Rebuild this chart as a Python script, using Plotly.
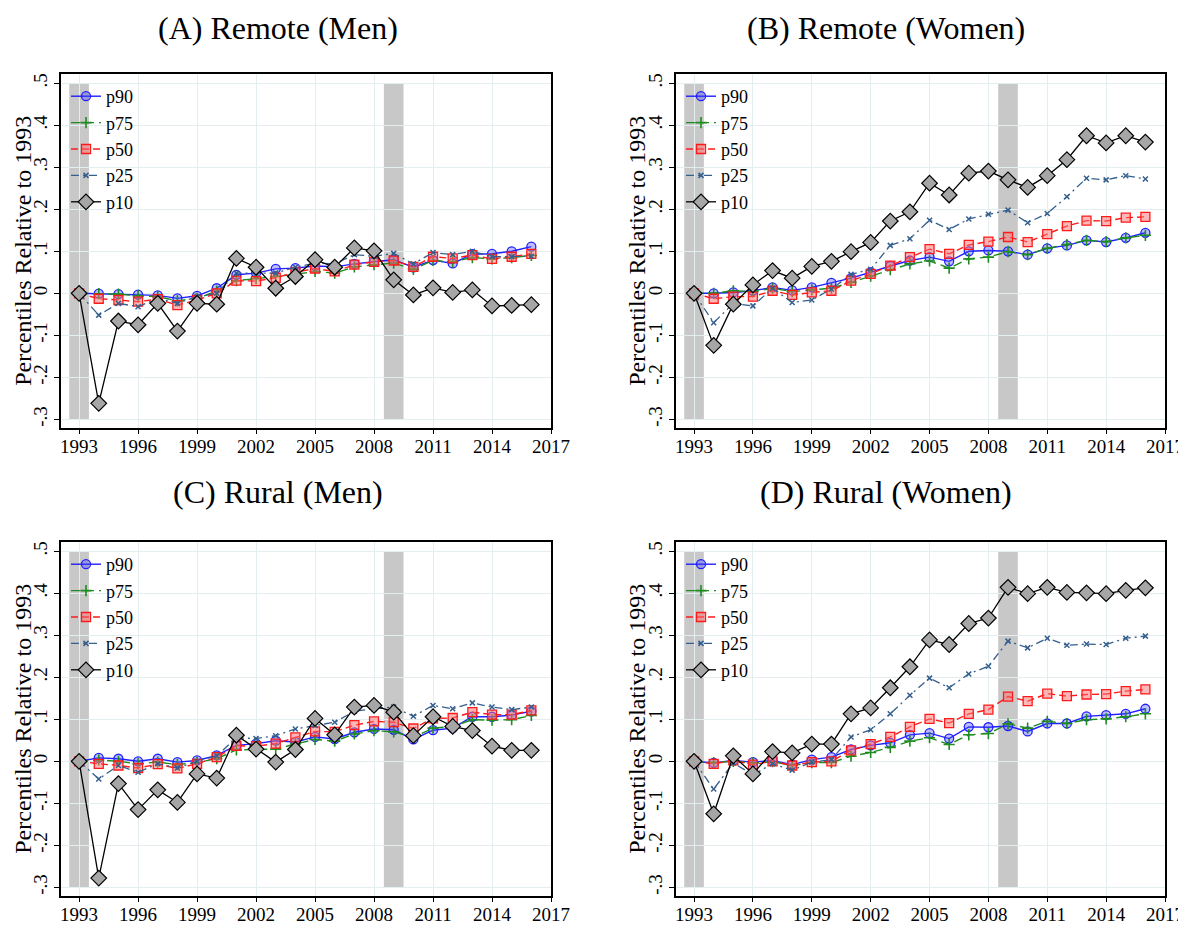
import plotly.graph_objects as go
from plotly.subplots import make_subplots

years = list(range(1993, 2017))

# (A) Remote (Men)
remote_men_p90 = [0, -0.001, -0.002, -0.003, -0.005, -0.012, -0.006, 0.012, 0.044, 0.048, 0.058, 0.060,
                  0.065, 0.063, 0.070, 0.075, 0.080, 0.062, 0.079, 0.071, 0.093, 0.094, 0.100, 0.111]
remote_men_p75 = [0, -0.001, -0.002, -0.006, -0.008, -0.018, -0.012, 0.005, 0.030, 0.035, 0.040, 0.045,
                  0.052, 0.048, 0.063, 0.068, 0.072, 0.057, 0.078, 0.075, 0.085, 0.082, 0.085, 0.090]
remote_men_p50 = [0, -0.013, -0.016, -0.020, -0.014, -0.028, -0.016, 0.000, 0.030, 0.029, 0.037, 0.050,
                  0.059, 0.052, 0.068, 0.075, 0.078, 0.063, 0.087, 0.083, 0.091, 0.082, 0.087, 0.094]
remote_men_p25 = [0, -0.052, -0.024, -0.032, -0.012, -0.024, -0.008, 0.000, 0.048, 0.048, 0.048, 0.062,
                  0.072, 0.070, 0.092, 0.088, 0.095, 0.070, 0.097, 0.092, 0.100, 0.087, 0.087, 0.088]
remote_men_p10 = [0, -0.262, -0.066, -0.075, -0.024, -0.090, -0.024, -0.026, 0.083, 0.062, 0.012, 0.040,
                  0.080, 0.062, 0.108, 0.101, 0.032, -0.004, 0.013, 0.002, 0.008, -0.030, -0.029, -0.027]

# (B) Remote (Women)
remote_women_p90 = [0, 0.000, 0.002, 0.006, 0.014, 0.007, 0.014, 0.025, 0.036, 0.050, 0.065, 0.078,
                    0.086, 0.076, 0.100, 0.102, 0.100, 0.092, 0.107, 0.114, 0.126, 0.122, 0.132, 0.144]
remote_women_p75 = [0, 0.000, 0.006, 0.004, 0.012, 0.004, 0.008, 0.012, 0.026, 0.041, 0.056, 0.070,
                    0.077, 0.060, 0.082, 0.086, 0.099, 0.092, 0.107, 0.116, 0.126, 0.123, 0.132, 0.138]
remote_women_p50 = [0, -0.013, -0.008, -0.008, 0.006, -0.004, 0.002, 0.006, 0.030, 0.046, 0.066, 0.086,
                    0.105, 0.094, 0.115, 0.123, 0.134, 0.122, 0.141, 0.160, 0.173, 0.172, 0.180, 0.182]
remote_women_p25 = [0, -0.070, -0.024, -0.030, 0.012, -0.022, -0.016, 0.010, 0.045, 0.057, 0.114, 0.130,
                    0.174, 0.152, 0.177, 0.188, 0.198, 0.168, 0.190, 0.230, 0.274, 0.270, 0.280, 0.272]
remote_women_p10 = [0, -0.124, -0.026, 0.020, 0.054, 0.036, 0.064, 0.076, 0.099, 0.121, 0.172, 0.194,
                    0.262, 0.234, 0.286, 0.291, 0.270, 0.252, 0.280, 0.318, 0.375, 0.358, 0.375, 0.360]

# (C) Rural (Men)
rural_men_p90 = [0, 0.008, 0.006, 0.000, 0.006, -0.002, 0.002, 0.014, 0.038, 0.042, 0.049, 0.046,
                 0.058, 0.053, 0.069, 0.077, 0.075, 0.052, 0.074, 0.079, 0.106, 0.106, 0.110, 0.119]
rural_men_p75 = [0, 0.003, 0.000, -0.006, -0.002, -0.008, -0.003, 0.006, 0.027, 0.028, 0.029, 0.041,
                 0.052, 0.048, 0.065, 0.073, 0.070, 0.057, 0.079, 0.083, 0.099, 0.098, 0.099, 0.109]
rural_men_p50 = [0, -0.006, -0.010, -0.016, -0.007, -0.017, -0.006, 0.010, 0.037, 0.036, 0.042, 0.057,
                 0.071, 0.070, 0.086, 0.095, 0.093, 0.078, 0.102, 0.103, 0.117, 0.111, 0.111, 0.121]
rural_men_p25 = [0, -0.042, -0.010, -0.026, -0.006, -0.016, 0.000, 0.013, 0.056, 0.054, 0.061, 0.077,
                 0.085, 0.093, 0.119, 0.125, 0.129, 0.107, 0.133, 0.125, 0.139, 0.129, 0.123, 0.129]
rural_men_p10 = [0, -0.278, -0.053, -0.115, -0.068, -0.098, -0.030, -0.040, 0.062, 0.029, -0.002, 0.028,
                 0.102, 0.063, 0.129, 0.133, 0.117, 0.061, 0.106, 0.083, 0.073, 0.036, 0.026, 0.026]

# (D) Rural (Women)
rural_women_p90 = [0, -0.004, 0.002, -0.002, 0.002, -0.008, 0.004, 0.010, 0.028, 0.038, 0.044, 0.063,
                   0.067, 0.054, 0.082, 0.081, 0.084, 0.071, 0.090, 0.090, 0.107, 0.110, 0.113, 0.125]
rural_women_p75 = [0, -0.003, 0.000, -0.004, -0.001, -0.010, -0.003, -0.003, 0.012, 0.021, 0.033, 0.048,
                   0.056, 0.040, 0.063, 0.066, 0.089, 0.079, 0.095, 0.090, 0.099, 0.101, 0.106, 0.113]
rural_women_p50 = [0, -0.006, 0.002, -0.008, 0.000, -0.010, -0.002, 0.000, 0.026, 0.041, 0.058, 0.082,
                   0.101, 0.091, 0.113, 0.123, 0.154, 0.143, 0.161, 0.155, 0.159, 0.160, 0.167, 0.171]
rural_women_p25 = [0, -0.066, -0.004, -0.032, -0.006, -0.021, -0.002, 0.004, 0.058, 0.075, 0.113, 0.157,
                   0.198, 0.175, 0.208, 0.226, 0.286, 0.270, 0.293, 0.276, 0.279, 0.278, 0.293, 0.298]
rural_women_p10 = [0, -0.125, 0.013, -0.030, 0.023, 0.020, 0.041, 0.041, 0.113, 0.127, 0.175, 0.225,
                   0.289, 0.278, 0.328, 0.341, 0.414, 0.399, 0.414, 0.402, 0.401, 0.399, 0.407, 0.413]

panel_titles = ["(A) Remote (Men)", "(B) Remote (Women)", "(C) Rural (Men)", "(D) Rural (Women)"]
series_names = ["p90", "p75", "p50", "p25", "p10"]
x_ticks = list(range(1993, 2018, 3))
y_ticks = [-0.3, -0.2, -0.1, 0, 0.1, 0.2, 0.3, 0.4, 0.5]
y_tick_labels = ["-.3", "-.2", "-.1", "0", ".1", ".2", ".3", ".4", ".5"]
recessions = [(1992.5, 1993.5), (2008.5, 2009.5)]

panels = [
    [remote_men_p90, remote_men_p75, remote_men_p50, remote_men_p25, remote_men_p10],
    [remote_women_p90, remote_women_p75, remote_women_p50, remote_women_p25, remote_women_p10],
    [rural_men_p90, rural_men_p75, rural_men_p50, rural_men_p25, rural_men_p10],
    [rural_women_p90, rural_women_p75, rural_women_p50, rural_women_p25, rural_women_p10],
]

# line / marker style per percentile
styles = [
    dict(line=dict(color="#1f1fff", width=1.4, dash="solid"),
         marker=dict(symbol="circle", size=9, color="rgba(70,70,255,0.35)",
                     line=dict(color="#1f1fff", width=1.3))),
    dict(line=dict(color="#1e8c1e", width=1.4, dash="9px,5px"),
         marker=dict(symbol="cross-thin", size=8, color="#1e8c1e",
                     line=dict(color="#1e8c1e", width=1.6))),
    dict(line=dict(color="#ff1a1a", width=1.4, dash="7px,4px"),
         marker=dict(symbol="square", size=9, color="rgba(255,110,110,0.5)",
                     line=dict(color="#ff1a1a", width=1.3))),
    dict(line=dict(color="#355f8d", width=1.3, dash="8px,4px,2px,4px"),
         marker=dict(symbol="x-thin", size=5, color="#355f8d",
                     line=dict(color="#355f8d", width=1.5))),
    dict(line=dict(color="#000000", width=1.3, dash="solid"),
         marker=dict(symbol="diamond", size=12, color="#a6a6a6",
                     line=dict(color="#000000", width=1.2))),
]

# the page puts the figure 8px in from the top-left corner
OFF = 8
W, H = 1186 - 2 * OFF, 932 - 2 * OFF
# plot boxes in page pixels: (left, right, top, bottom)
boxes = [(61, 551, 74, 427.5), (676, 1165, 74, 427.5),
         (61, 551, 542, 895.5), (676, 1165, 542, 895.5)]


def px(x):
    return (x - OFF) / W


def py(y):
    return 1 - (y - OFF) / H


fig = make_subplots(rows=2, cols=2)
font_family = "Liberation Serif, Times New Roman, serif"

for i, (data, box) in enumerate(zip(panels, boxes)):
    row, col = i // 2 + 1, i % 2 + 1
    legend_name = "legend" if i == 0 else f"legend{i + 1}"
    for name, values, style in zip(series_names, data, styles):
        fig.add_trace(
            go.Scatter(x=years, y=values, name=name, mode="lines+markers",
                       line=style["line"], marker=style["marker"],
                       legend=legend_name),
            row=row, col=col,
        )
    for x0, x1 in recessions:
        fig.add_shape(type="rect", x0=x0, x1=x1, y0=-0.3, y1=0.5,
                      fillcolor="#c8c8c8", line=dict(width=0), layer="below",
                      row=row, col=col)

    left, right, top, bottom = box
    fig.update_xaxes(domain=[px(left), px(right)], range=[1992.08, 2017],
                     tickvals=x_ticks, row=row, col=col)
    fig.update_yaxes(domain=[py(bottom), py(top)], range=[-0.3195, 0.522],
                     tickvals=y_ticks, ticktext=y_tick_labels, tickangle=-90,
                     row=row, col=col)

    # legend inside the plot, top-left
    fig.update_layout({legend_name: dict(
        x=px(left + 5), y=py(top + 4), xanchor="left", yanchor="top",
        bgcolor="rgba(0,0,0,0)", borderwidth=0,
        font=dict(family=font_family, size=18, color="black"),
        tracegroupgap=0, itemwidth=30,
    )})

    # panel title
    title_x = 278 if col == 1 else 886
    title_y = OFF if row == 1 else 472
    fig.add_annotation(text=panel_titles[i], xref="paper", yref="paper",
                       x=px(title_x), y=py(title_y), showarrow=False,
                       xanchor="center", yanchor="top",
                       font=dict(family=font_family, size=32, color="black"))

    # y-axis title
    ytitle_x = OFF if col == 1 else 622
    fig.add_annotation(text="Percentiles Relative to 1993", xref="paper", yref="paper",
                       x=px(ytitle_x), y=py((top + bottom) / 2), showarrow=False,
                       textangle=-90, xanchor="left", yanchor="middle",
                       font=dict(family=font_family, size=24, color="black"))

fig.update_xaxes(showgrid=True, gridcolor="#e4edf0", gridwidth=1, automargin=False,
                 showline=True, linecolor="black", linewidth=1.5, mirror=True,
                 ticks="outside", ticklen=5, tickcolor="black", zeroline=False,
                 ticklabeloverflow="allow", ticklabelstandoff=-4,
                 tickfont=dict(family=font_family, size=19, color="black"))
fig.update_yaxes(showgrid=True, gridcolor="#e4edf0", gridwidth=1, automargin=False,
                 showline=True, linecolor="black", linewidth=1.5, mirror=True,
                 ticks="outside", ticklen=5, tickcolor="black", zeroline=False,
                 tickfont=dict(family=font_family, size=19, color="black"))

fig.update_layout(
    width=W, height=H,
    margin=dict(l=0, r=0, t=0, b=0),
    paper_bgcolor="white", plot_bgcolor="white",
    showlegend=True,
)

fig.write_html("out.html")
